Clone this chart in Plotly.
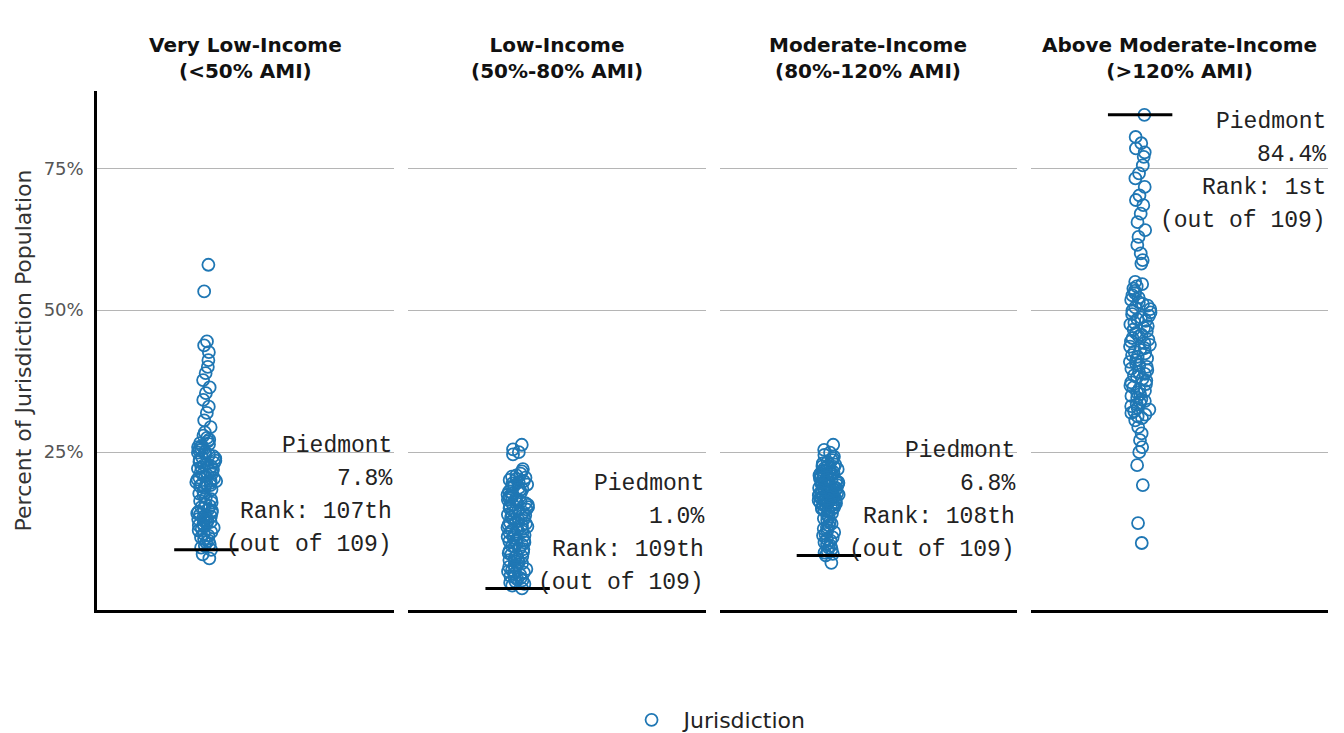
import plotly.graph_objects as go
from plotly.subplots import make_subplots

# ---------------- data ----------------
categories = [
    "Very Low-Income<br>(&lt;50% AMI)",
    "Low-Income<br>(50%-80% AMI)",
    "Moderate-Income<br>(80%-120% AMI)",
    "Above Moderate-Income<br>(&gt;120% AMI)",
]

very_low = [
    58.0, 53.3, 44.5, 43.8, 42.6, 41.2, 40.0, 38.9, 37.7, 36.4,
    35.4, 34.2, 33.0, 31.9, 30.6, 29.4, 28.5,
    27.9, 27.5, 27.2, 26.9, 26.6, 26.4, 26.1, 25.9, 25.7, 25.5,
    25.3, 25.1, 24.9, 24.7, 24.5, 24.3, 24.1, 23.9, 23.7, 23.5,
    23.3, 23.1, 22.9, 22.7, 22.5, 22.3, 22.1, 21.9, 21.7, 21.5,
    21.3, 21.1, 20.9, 20.7, 20.5, 20.4, 20.2, 20.0, 19.9, 19.7,
    19.6, 19.5, 19.3, 19.2, 19.0,
    18.7, 18.4, 18.0, 17.7, 17.3, 17.0, 16.7, 16.4, 16.1, 15.8,
    15.5, 15.3, 15.1, 14.9, 14.7,
    14.5, 14.4, 14.2, 14.0, 13.9, 13.7, 13.5, 13.4, 13.2, 13.0,
    12.8, 12.7, 12.5, 12.3, 12.1, 11.9, 11.7, 11.5,
    11.2, 10.9, 10.6, 10.3, 10.0, 9.7, 9.4, 9.1, 8.8, 8.5,
    8.2, 7.8, 7.0, 6.3,
]

low = [
    26.3, 25.5, 25.0, 24.6, 22.0, 21.6, 21.2,
    20.9, 20.7, 20.5, 20.3, 20.1, 19.9, 19.7, 19.5, 19.3, 19.1,
    18.9, 18.7, 18.5, 18.3, 18.1, 17.9, 17.7, 17.5, 17.3, 17.1,
    16.9, 16.8, 16.6, 16.4, 16.2, 16.0, 15.8, 15.7, 15.5, 15.3,
    15.1, 14.9, 14.8, 14.6, 14.4, 14.2, 14.0, 13.9, 13.7, 13.5,
    13.3, 13.1, 13.0, 12.8, 12.6, 12.4, 12.2, 12.1, 11.9, 11.7,
    11.5, 11.3, 11.2, 11.0, 10.8, 10.6, 10.4, 10.3, 10.1, 9.9,
    9.7, 9.5, 9.3, 9.1, 8.9, 8.7, 8.5, 8.3, 8.1, 7.9,
    7.6, 7.4, 7.2, 7.0, 6.8, 6.6, 6.4, 6.2, 6.0, 5.8,
    5.6, 5.4, 5.2, 5.0, 4.8, 4.6, 4.4, 4.2, 4.0, 3.8,
    3.6, 3.4, 3.2, 3.0, 2.8, 2.6, 2.4, 2.2, 2.0, 1.8,
    1.5, 1.0,
]

moderate = [
    26.3, 25.4, 24.9, 24.5, 24.2, 23.9, 23.6, 23.3, 23.0, 22.8,
    22.6, 22.5, 22.4, 22.2, 22.1, 22.0, 21.8, 21.7, 21.6, 21.5,
    21.3, 21.2, 21.1, 21.0, 20.9, 20.8, 20.7, 20.6, 20.4, 20.3,
    20.2, 20.1, 20.0, 19.8, 19.7, 19.6, 19.5, 19.4, 19.2, 19.1,
    19.0, 18.9, 18.8, 18.7, 18.6, 18.5, 18.4, 18.3, 18.2, 18.1,
    18.0, 17.9, 17.8, 17.7, 17.6, 17.5, 17.4, 17.3, 17.2, 17.1,
    17.0, 16.9, 16.8, 16.7, 16.6, 16.5, 16.4, 16.3, 16.2, 16.1,
    16.0, 15.9, 15.8, 15.7, 15.6, 15.5, 15.3, 15.2, 15.1, 15.0,
    14.8, 14.5, 14.2, 13.9, 13.6, 13.3, 13.0, 12.7, 12.4, 12.1,
    11.8, 11.5, 11.2, 10.9, 10.6, 10.3, 10.0, 9.7, 9.4, 9.1,
    8.8, 8.5, 8.2, 7.9, 7.6, 7.3, 7.1, 6.8, 5.5,
]

above_moderate = [
    84.4, 80.5, 79.4, 78.5, 77.8, 77.0, 75.5, 74.1, 73.2, 71.7,
    70.2, 69.4, 68.5, 67.0, 65.5, 64.1, 62.9, 61.5, 60.0, 58.8,
    58.2,
    55.0, 54.6, 54.2, 53.8, 53.4, 53.0, 52.6, 52.2, 51.8, 51.4,
    51.1, 50.8, 50.5, 50.2, 49.9, 49.6, 49.3, 49.0, 48.7, 48.4,
    48.1, 47.8, 47.5, 47.2, 46.9, 46.6, 46.3, 46.0, 45.7, 45.4,
    45.1, 44.8, 44.5, 44.2, 43.9, 43.6, 43.3, 43.0, 42.7, 42.4,
    42.1, 41.8, 41.5, 41.2, 40.9, 40.6, 40.3, 40.0, 39.7, 39.4,
    39.1, 38.8, 38.5, 38.2, 37.9, 37.6, 37.3, 37.0, 36.7, 36.4,
    36.1, 35.8, 35.5, 35.2, 34.9, 34.6, 34.3, 34.0, 33.7, 33.4,
    33.1, 32.8, 32.5, 32.2, 31.9, 31.6, 31.3, 31.0,
    30.6, 29.4, 28.3, 27.1, 25.9, 25.0, 22.7, 19.2, 12.5, 9.0,
]

piedmont_values = [7.8, 1.0, 6.8, 84.4]
piedmont_ranks = ["107th", "109th", "108th", "1st"]
n_jurisdictions = 109

y_ticks = [25, 50, 75]
y_tick_labels = ["25%", "50%", "75%"]

# ---------------- styling ----------------
BLUE = "#1f77b4"
SANS = "DejaVu Sans, Verdana, sans-serif"
MONO = "Liberation Mono, Courier New, monospace"
Y_RANGE = [-2.8, 88.6]
X_RANGE = [-0.368, 0.632]

fig = make_subplots(rows=1, cols=4, horizontal_spacing=14 / 1231)

series = [very_low, low, moderate, above_moderate]

for i, (vals, pv, rk) in enumerate(zip(series, piedmont_values, piedmont_ranks)):
    col = i + 1
    fig.add_trace(
        go.Box(
            y=vals,
            x0=0,
            name="Jurisdiction",
            boxpoints="all",
            jitter=1,
            pointpos=0,
            width=0.07,
            fillcolor="rgba(0,0,0,0)",
            line=dict(width=0, color="rgba(0,0,0,0)"),
            marker=dict(symbol="circle-open", size=12, color=BLUE,
                        line=dict(width=1.8, color=BLUE)),
            showlegend=False,
            hoveron="points",
        ),
        row=1, col=col,
    )
    fig.add_trace(
        go.Scatter(
            x=[0], y=[pv], mode="markers",
            marker=dict(symbol="line-ew", size=46, color="black",
                        line=dict(width=3, color="black")),
            showlegend=False, hoverinfo="skip", cliponaxis=False,
        ),
        row=1, col=col,
    )

    sfx = "" if col == 1 else str(col)
    lines = ["Piedmont", f"{pv:.1f}%", f"Rank: {rk}", f"(out of {n_jurisdictions})"]
    below = pv > 50
    for k, txt in enumerate(lines):
        if below:
            shift = -7 - 33 * k
        else:
            shift = 5 + 33 * (len(lines) - 1 - k)
        fig.add_annotation(
            xref=f"x{sfx} domain", x=1, xanchor="right",
            yref=f"y{sfx}", y=pv, yanchor="middle", yshift=shift,
            text=txt, showarrow=False,
            font=dict(family=MONO, size=23, color="#222222"),
        )

    fig.add_annotation(
        xref=f"x{sfx} domain", x=0.5, xanchor="center",
        yref="paper", y=1, yanchor="bottom", yshift=6,
        text=f"<b>{categories[i]}</b>", showarrow=False,
        font=dict(family=SANS, size=20, color="#111111"),
    )

    fig.update_xaxes(
        type="linear", range=X_RANGE, showticklabels=False, showgrid=False,
        zeroline=False, showline=True, linecolor="black", linewidth=2.5,
        ticks="", automargin=False, row=1, col=col,
    )
    fig.update_yaxes(
        range=Y_RANGE, tickvals=y_ticks, ticktext=y_tick_labels,
        showgrid=True, gridcolor="#b5b5b5", gridwidth=1, zeroline=False,
        showticklabels=(col == 1), showline=(col == 1), linecolor="black",
        linewidth=2.5, ticks="", ticklabelstandoff=7, automargin=False,
        tickfont=dict(family=SANS, size=18, color="#555555"),
        row=1, col=col,
    )

# legend entry
fig.add_trace(
    go.Scatter(
        x=[None], y=[None], mode="markers", name="Jurisdiction",
        marker=dict(symbol="circle-open", size=12, color=BLUE,
                    line=dict(width=1.8, color=BLUE)),
        showlegend=True,
    ),
    row=1, col=1,
)

fig.update_yaxes(
    title=dict(text="Percent of Jurisdiction Population",
               font=dict(family=SANS, size=22, color="#333333"), standoff=6),
    row=1, col=1,
)

fig.update_layout(
    width=1344, height=733,
    margin=dict(l=97, r=16, t=91, b=123, autoexpand=False),
    plot_bgcolor="white", paper_bgcolor="white",
    showlegend=True,
    legend=dict(orientation="h", x=0.4245, xanchor="left", y=-0.212,
                yanchor="middle", itemwidth=54,
                font=dict(family=SANS, size=22, color="#222222")),
)

fig.write_html("out.html", config={"displayModeBar": False},
               post_script="document.body.style.margin='0';")
